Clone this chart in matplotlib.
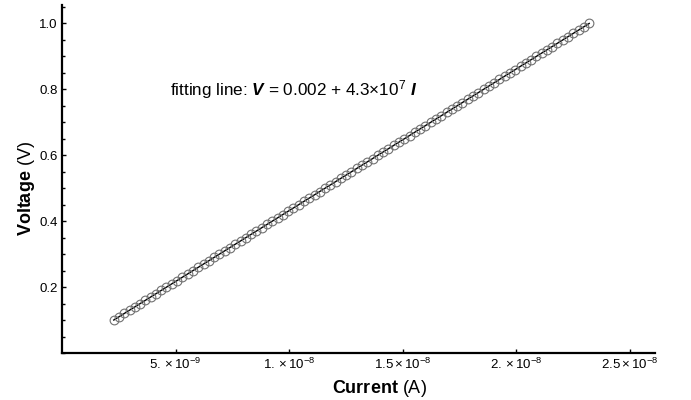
import numpy as np
import matplotlib
matplotlib.use('Agg')
import matplotlib.pyplot as plt
from matplotlib.ticker import FixedLocator, FixedFormatter, MultipleLocator

plt.rcParams['font.family'] = ['Liberation Sans', 'DejaVu Sans']
plt.rcParams['mathtext.fontset'] = 'custom'
plt.rcParams['mathtext.rm'] = 'Liberation Sans'
plt.rcParams['mathtext.it'] = 'Liberation Sans:italic'
plt.rcParams['mathtext.bf'] = 'Liberation Sans:bold'
plt.rcParams['mathtext.bfit'] = 'Liberation Sans:italic:bold'

# measured points (current in nA, voltage in V)
current_nA = [2.28, 2.51, 2.74, 2.98, 3.21, 3.44, 3.67, 3.91, 4.14, 4.37,
              4.60, 4.84, 5.07, 5.30, 5.53, 5.77, 6.00, 6.23, 6.47, 6.70,
              6.93, 7.16, 7.40, 7.63, 7.86, 8.09, 8.33, 8.56, 8.79, 9.02,
              9.26, 9.49, 9.72, 9.95, 10.19, 10.42, 10.65, 10.88, 11.12, 11.35,
              11.58, 11.81, 12.05, 12.28, 12.51, 12.74, 12.98, 13.21, 13.44, 13.67,
              13.91, 14.14, 14.37, 14.60, 14.84, 15.07, 15.30, 15.53, 15.77, 16.00,
              16.23, 16.47, 16.70, 16.93, 17.16, 17.40, 17.63, 17.86, 18.09, 18.33,
              18.56, 18.79, 19.02, 19.26, 19.49, 19.72, 19.95, 20.19, 20.42, 20.65,
              20.88, 21.12, 21.35, 21.58, 21.81, 22.05, 22.28, 22.51, 22.74, 22.98,
              23.21]
voltage = [0.10, 0.11, 0.12, 0.13, 0.14, 0.15, 0.16, 0.17, 0.18, 0.19,
           0.20, 0.21, 0.22, 0.23, 0.24, 0.25, 0.26, 0.27, 0.28, 0.29,
           0.30, 0.31, 0.32, 0.33, 0.34, 0.35, 0.36, 0.37, 0.38, 0.39,
           0.40, 0.41, 0.42, 0.43, 0.44, 0.45, 0.46, 0.47, 0.48, 0.49,
           0.50, 0.51, 0.52, 0.53, 0.54, 0.55, 0.56, 0.57, 0.58, 0.59,
           0.60, 0.61, 0.62, 0.63, 0.64, 0.65, 0.66, 0.67, 0.68, 0.69,
           0.70, 0.71, 0.72, 0.73, 0.74, 0.75, 0.76, 0.77, 0.78, 0.79,
           0.80, 0.81, 0.82, 0.83, 0.84, 0.85, 0.86, 0.87, 0.88, 0.89,
           0.90, 0.91, 0.92, 0.93, 0.94, 0.95, 0.96, 0.97, 0.98, 0.99,
           1.00]

# fit parameters
fit_intercept = 0.002
fit_slope = 4.3e7

xtick_vals = [5e-9, 1e-8, 1.5e-8, 2e-8, 2.5e-8]
xtick_labels = [r'$5.\times10^{-9}$', r'$1.\times10^{-8}$', r'$1.5\times10^{-8}$',
                r'$2.\times10^{-8}$', r'$2.5\times10^{-8}$']
ytick_vals = [0.2, 0.4, 0.6, 0.8, 1.0]

I = np.array(current_nA) * 1e-9
V = np.array(voltage)

fig = plt.figure(figsize=(6.91, 4.00), dpi=100)
ax = fig.add_axes([0.0897, 0.1175, 0.858, 0.87])

#fit line over the data range
xfit = np.array([I[0], I[-1]])
ax.plot(xfit, fit_intercept + fit_slope*xfit, color='black', linewidth=1.0, zorder=2)
ax.plot(I, V, linestyle='none', marker='o', markersize=6.3, markerfacecolor='none',
        markeredgecolor='#707070', markeredgewidth=0.8, zorder=3)

ax.set_xlim(0, 2.61e-8)
ax.set_ylim(0, 1.056)

ax.xaxis.set_major_locator(FixedLocator(xtick_vals))
ax.xaxis.set_major_formatter(FixedFormatter(xtick_labels))
ax.yaxis.set_major_locator(FixedLocator(ytick_vals))
ax.yaxis.set_minor_locator(MultipleLocator(0.05))

for s in ['top', 'right']:
    ax.spines[s].set_visible(False)
for s in ['left', 'bottom']:
    ax.spines[s].set_linewidth(1.6)

ax.tick_params(axis='both', which='both', direction='in', width=1.0)
ax.tick_params(axis='x', which='major', length=3, labelsize=9.5, pad=3)
ax.tick_params(axis='y', which='major', length=3, labelsize=9.5, pad=3)
ax.tick_params(axis='y', which='minor', length=2)

ax.set_xlabel(r'$\mathbf{Current}$ (A)', fontsize=13)
ax.set_ylabel(r'$\mathbf{Voltage}$ (V)', fontsize=13)
ax.xaxis.set_label_coords(0.536, -0.073)
ax.yaxis.set_label_coords(-0.042, 0.474)

ax.text(4.76e-9, 0.8, r'fitting line: $\mathbfit{V}$ = 0.002 + 4.3×10$^7$ $\mathbfit{I}$',
        fontsize=12.3, ha='left', va='center')

plt.savefig('out.png', dpi=100)
